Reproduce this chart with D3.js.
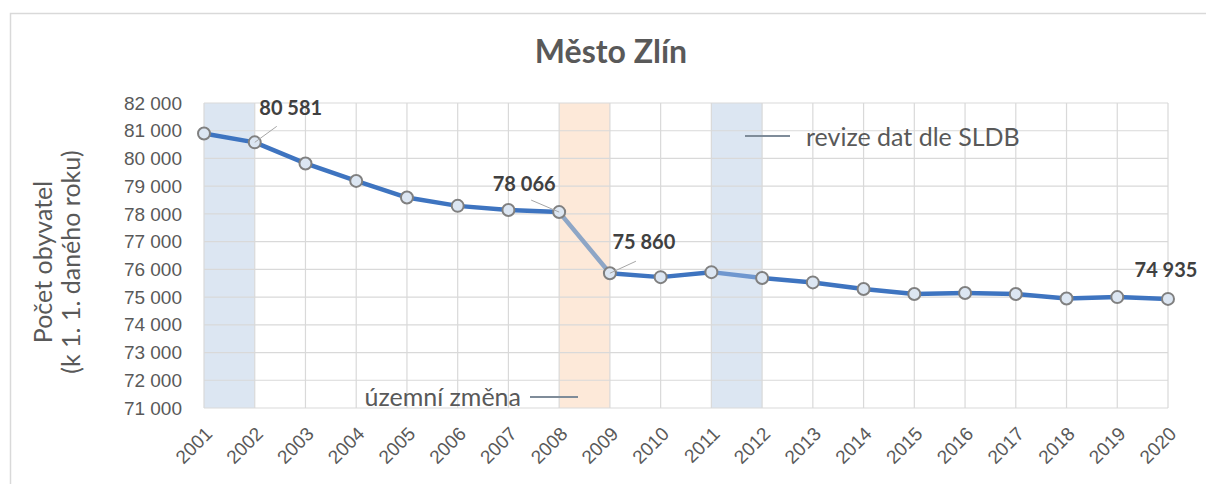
<!DOCTYPE html>
<html>
<head>
<meta charset="utf-8">
<script src="https://cdn.jsdelivr.net/npm/d3@7"></script>
<style>
  body { margin: 0; background: #fff; }
  svg { font-family: Lato, "Open Sans", sans-serif; }
</style>
</head>
<body>
<div id="chart"></div>
<script>
const years = ["2001","2002","2003","2004","2005","2006","2007","2008","2009","2010",
  "2011","2012","2013","2014","2015","2016","2017","2018","2019","2020"];
const population = [80900, 80581, 79820, 79190, 78590, 78290, 78140, 78066, 75860, 75720,
  75900, 75690, 75530, 75290, 75110, 75150, 75110, 74950, 75000, 74935];
const yTicks = [71000, 72000, 73000, 74000, 75000, 76000, 77000, 78000, 79000, 80000, 81000, 82000];
const bands = [["2001", "2002", "#dce6f2"], ["2008", "2009", "#fde9d9"], ["2011", "2012", "#dce6f2"]];
const labelled = ["2002", "2008", "2009", "2020"];

const W = 1206, H = 484;
const m = { left: 204, right: 1168, top: 103, bottom: 408 };
const fmt = d3.formatLocale({ decimal: ",", thousands: "\u00a0", grouping: [3], currency: ["", ""] }).format(",d");

const svg = d3.select("#chart").append("svg").attr("width", W).attr("height", H);

// frame
svg.append("rect").attr("x", 10.5).attr("y", 13.5).attr("width", W).attr("height", H)
  .attr("fill", "none").attr("stroke", "#d9d9d9").attr("stroke-width", 1.5);

const x = d3.scalePoint().domain(years).range([m.left, m.right]);
const y = d3.scaleLinear().domain([71000, 82000]).range([m.bottom, m.top]);

// bands
svg.selectAll("rect.band").data(bands).join("rect").attr("class", "band")
  .attr("x", d => x(d[0])).attr("y", m.top)
  .attr("width", d => x(d[1]) - x(d[0])).attr("height", m.bottom - m.top)
  .attr("fill", d => d[2]);

// grid
svg.append("g").selectAll("line").data(yTicks).join("line")
  .attr("x1", m.left).attr("x2", m.right).attr("y1", d => y(d)).attr("y2", d => y(d))
  .attr("stroke", "#d9d9d9").attr("stroke-width", 1.2);
svg.append("g").selectAll("line").data(years).join("line")
  .attr("x1", d => x(d)).attr("x2", d => x(d)).attr("y1", m.top).attr("y2", m.bottom)
  .attr("stroke", "#d9d9d9").attr("stroke-width", 1.2);

// axes
const yAxis = svg.append("g").attr("transform", `translate(${m.left - 10},0)`)
  .call(d3.axisLeft(y).tickValues(yTicks).tickFormat(fmt).tickSize(0).tickPadding(12));
yAxis.select(".domain").remove();
yAxis.selectAll("text").attr("fill", "#595959").style("font-size", "19px");

const xAxis = svg.append("g").attr("transform", `translate(0,${m.bottom})`)
  .call(d3.axisBottom(x).tickSize(0));
xAxis.select(".domain").remove();
xAxis.selectAll("text").attr("fill", "#595959").style("font-size", "19px")
  .attr("text-anchor", "end").attr("dy", null).attr("y", 0)
  .attr("transform", "translate(9,27) rotate(-45)");

// y title
const yt = svg.append("text").attr("transform", "translate(52,262) rotate(-90)")
  .attr("text-anchor", "middle").attr("fill", "#595959").style("font-size", "25px");
yt.append("tspan").attr("x", 0).attr("dy", 0).text("Počet obyvatel");
yt.append("tspan").attr("x", 0).attr("dy", 28).text("(k 1. 1. daného roku)");

// title
svg.append("text").attr("x", 611).attr("y", 63).attr("text-anchor", "middle")
  .attr("fill", "#595959").style("font-size", "32px").style("font-weight", "bold")
  .text("Město Zlín");

// line segments
const pts = years.map((yr, i) => ({ yr, v: population[i] }));
const segColor = i => {
  if (years[i] === "2008") return "#8ea6c6";
  if (years[i] === "2011") return "#6f97cf";
  return "#3e74c0";
};
svg.append("g").selectAll("line").data(pts.slice(0, -1)).join("line")
  .attr("x1", d => x(d.yr)).attr("y1", d => y(d.v))
  .attr("x2", (d, i) => x(pts[i + 1].yr)).attr("y2", (d, i) => y(pts[i + 1].v))
  .attr("stroke", (d, i) => segColor(i)).attr("stroke-width", 4.5).attr("stroke-linecap", "round");

// markers
svg.append("g").selectAll("circle").data(pts).join("circle")
  .attr("cx", d => x(d.yr)).attr("cy", d => y(d.v)).attr("r", 6)
  .attr("fill", "#dce6f2").attr("stroke", "#808080").attr("stroke-width", 2);

// data labels: [label dx, label dy, leader dx, leader dy]
const lab = pts.filter(d => labelled.includes(d.yr));
const off = { "2002": [36, -27, 22, -16], "2008": [-35, -21, -28, -12], "2009": [34, -24, 26, -12], "2020": [-2, -22, 0, 0] };
svg.append("g").selectAll("line").data(lab.filter(d => off[d.yr][2] !== 0)).join("line")
  .attr("x1", d => x(d.yr)).attr("y1", d => y(d.v))
  .attr("x2", d => x(d.yr) + off[d.yr][2]).attr("y2", d => y(d.v) + off[d.yr][3])
  .attr("stroke", "#a6a6a6").attr("stroke-width", 1);
svg.append("g").selectAll("text").data(lab).join("text")
  .attr("x", d => x(d.yr) + off[d.yr][0]).attr("y", d => y(d.v) + off[d.yr][1])
  .attr("text-anchor", "middle").attr("fill", "#404040")
  .style("font-size", "20px").style("font-weight", "bold")
  .text(d => fmt(d.v));

// annotations
svg.append("line").attr("x1", 745).attr("x2", 790).attr("y1", 136).attr("y2", 136)
  .attr("stroke", "#7f8c99").attr("stroke-width", 2);
svg.append("text").attr("x", 806).attr("y", 146).attr("fill", "#595959")
  .style("font-size", "25px").text("revize dat dle SLDB");
svg.append("line").attr("x1", 530).attr("x2", 578).attr("y1", 397).attr("y2", 397)
  .attr("stroke", "#7f8c99").attr("stroke-width", 2);
svg.append("text").attr("x", 521).attr("y", 406).attr("text-anchor", "end").attr("fill", "#595959")
  .style("font-size", "25px").text("územní změna");
</script>
</body>
</html>
